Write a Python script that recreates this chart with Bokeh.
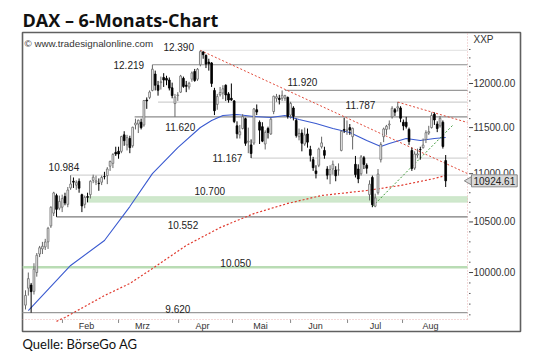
from bokeh.plotting import figure
from bokeh.models import (Range1d, FixedTicker, PrintfTickFormatter, Label,
                          BoxAnnotation, ColumnDataSource, Title)
from bokeh.core.properties import value
from bokeh.embed import file_html
from bokeh.resources import INLINE

# ---------------- data (DAX daily, 12 Jan - 12 Aug 2015) ----------------
opens = [9690, 9850, 9880, 9820, 10000, 10180, 10230, 10250, 10300, 10460, 10590, 10770, 10640, 10650, 10760,
         10680, 10850, 10920, 10880, 10920, 10780, 10680, 10760, 10780, 10930, 10910, 10900, 10910, 10970, 10980,
         11080, 11110, 11230, 11240, 11240,
         11420, 11310, 11380, 11300, 11530, 11540, 11560, 11530, 11810, 11840, 11920, 12110, 11980, 12010, 12070,
         12060, 12040, 11950, 11770, 11860, 11900, 12060,
         11980, 11960, 12050, 12140, 12050, 12220, 12370, 12330, 12250, 12240, 11920, 11760, 11870, 11890, 11980,
         11880, 11830, 11800, 11520, 11420,
         11490, 11600, 11340, 11310, 11330, 11700, 11560, 11510, 11320, 11490, 11430, 11680, 11830, 11830, 11830,
         11830, 11840, 11640, 11720, 11580,
         11400, 11440, 11320, 11430, 11260, 11150, 11030, 11090, 11290, 11250, 11050, 10990, 11050, 11040, 11040,
         11250, 11480, 11470, 11500, 11400, 11100, 11050,
         11000, 11170, 11090, 10780, 10960, 10660, 10800, 11150, 11400, 11480, 11530, 11620, 11700, 11720, 11720,
         11560, 11560, 11480, 11250, 11060, 11200, 11260, 11280,
         11370, 11440, 11500, 11650, 11540, 11520, 11560, 11140]
highs = [9830, 10000, 9900, 10090, 10190, 10260, 10300, 10330, 10450, 10660, 10810, 10790, 10770, 10780, 10800,
         10860, 10984, 10960, 10930, 10950, 10790, 10770, 10800, 10930, 10990, 10980, 10950, 10980, 11020, 11070,
         11140, 11220, 11290, 11290, 11410,
         11460, 11420, 11410, 11510, 11600, 11590, 11600, 11810, 11840, 11920, 12219, 12150, 12030, 12080, 12120,
         12090, 12070, 12010, 11880, 11900, 12100, 12080,
         12030, 12020, 12140, 12170, 12180, 12390, 12380, 12340, 12290, 12250, 11950, 11880, 11960, 11980, 11990,
         11900, 12000, 11810, 11570, 11530,
         11650, 11610, 11500, 11370, 11720, 11760, 11580, 11560, 11470, 11510, 11610, 11860, 11880, 11870, 11920,
         11870, 11850, 11790, 11740, 11600,
         11490, 11480, 11500, 11490, 11300, 11180, 11090, 11280, 11400, 11290, 11080, 11090, 11140, 11080, 11110,
         11470, 11610, 11580, 11540, 11500, 11190, 11100,
         11200, 11190, 11110, 10930, 10980, 10790, 11050, 11340, 11500, 11530, 11580, 11740, 11720, 11787, 11740,
         11590, 11620, 11500, 11280, 11240, 11270, 11290, 11380,
         11470, 11520, 11670, 11670, 11570, 11630, 11580, 11200]
lows = [9650, 9780, 9620, 9790, 9960, 10150, 10180, 10220, 10230, 10440, 10560, 10552, 10620, 10600, 10670,
        10650, 10830, 10850, 10830, 10800, 10600, 10640, 10700, 10740, 10900, 10880, 10820, 10880, 10940, 10890,
        11030, 11060, 11190, 11160, 11220,
        11300, 11250, 11220, 11280, 11480, 11440, 11480, 11510, 11710, 11820, 11910, 11920, 11860, 11930, 11960,
        11980, 11920, 11830, 11620, 11800, 11890, 11950,
        11900, 11930, 12020, 12020, 12030, 12200, 12290, 12180, 12150, 11960, 11640, 11700, 11850, 11820, 11800,
        11780, 11800, 11550, 11380, 11380,
        11480, 11300, 11220, 11167, 11310, 11640, 11320, 11340, 11260, 11380, 11420, 11650, 11790, 11760, 11800,
        11800, 11600, 11600, 11580, 11390,
        11360, 11240, 11300, 11280, 11130, 11030, 10950, 11070, 11270, 11160, 10940, 10890, 10990, 10920, 10980,
        11240, 11440, 11420, 11420, 11260, 10960, 10900,
        10980, 11050, 11000, 10720, 10650, 10650, 10780, 11120, 11340, 11420, 11480, 11600, 11630, 11680, 11560,
        11470, 11490, 11310, 11030, 11040, 11170, 11150, 11270,
        11330, 11420, 11490, 11530, 11450, 11500, 11270, 10860]
closes = [9781, 9941, 9817, 10032, 10168, 10242, 10257, 10299, 10435, 10649, 10798, 10628, 10710, 10739, 10694,
          10828, 10891, 10911, 10905, 10847, 10663, 10752, 10752, 10920, 10963, 10924, 10895, 10961, 10969, 11050,
          11131, 11206, 11211, 11211, 11401,
          11356, 11390, 11280, 11504, 11551, 11582, 11500, 11805, 11800, 11901, 12167, 11980, 11922, 12020, 12040,
          12039, 11947, 11861, 11843, 11868, 12086, 11966,
          11967, 12002, 12123, 12035, 12166, 12375, 12338, 12227, 12231, 12001, 11689, 11850, 11896, 11939, 11868,
          11810, 11812, 11568, 11432, 11454,
          11622, 11327, 11350, 11216, 11709, 11674, 11472, 11351, 11447, 11447, 11594, 11853, 11849, 11815, 11864,
          11860, 11625, 11771, 11626, 11413,
          11436, 11328, 11420, 11340, 11197, 11064, 11001, 11265, 11332, 11197, 10984, 11044, 11100, 10978, 11040,
          11460, 11471, 11472, 11473, 11492, 10991, 10945,
          11180, 11099, 11058, 10890, 10676, 10747, 10996, 11315, 11485, 11516, 11540, 11716, 11673, 11734, 11604,
          11520, 11513, 11347, 11056, 11211, 11212, 11257, 11308,
          11444, 11456, 11636, 11585, 11490, 11604, 11293, 10924.61]

# moving averages (bar index, value)
ma_blue_idx = [1, 16, 28, 37, 45, 54, 62, 66, 70, 75, 81, 87, 92, 97, 103, 109, 115, 121, 126, 129, 135, 140, 145, 149]
ma_blue_val = [9640, 10068, 10314, 10657, 11001, 11281, 11501, 11579, 11635, 11646, 11624, 11613, 11635, 11591,
               11545, 11490, 11446, 11358, 11292, 11325, 11380, 11358, 11380, 11391]
ma_red_idx = [11, 14, 28, 37, 45, 57, 69, 81, 93, 105, 121, 133, 145, 149]
ma_red_val = [9540, 9576, 9780, 9895, 10038, 10264, 10443, 10585, 10689, 10771, 10823, 10876, 10949, 10980]

# trend lines (bar index, value)
down1_x = [62, 156.7]
down1_y = [12390, 11002]
down2_x = [132, 156.7]
down2_y = [11787, 11557]
up1_x = [123, 151.4]
up1_y = [10657, 11523]

# horizontal price levels (value, first bar of the line)
level_values = [12390, 12219, 11920, 11787, 11620, 11167, 10984, 10552, 9620]
level_start = [62, 45, 92, 47, 38.7, 80, 16, 11, -2]
green_level = 10050
band_low, band_high, band_start = 10700, 10760, 22

label_texts = ["12.390", "12.219", "11.920", "11.787", "11.620", "11.167", "10.984", "10.700", "10.552",
               "10.050", "9.620"]
label_values = [12390, 12219, 11920, 11787, 11620, 11167, 10984, 10700, 10552, 10050, 9620]

month_names = ["Feb", "Mrz", "Apr", "Mai", "Jun", "Jul", "Aug"]
month_label_idx = [21.6, 41.5, 62.8, 83.3, 102.8, 124.1, 143.6]
month_tick_idx = [13.1, 33.0, 54.3, 73.4, 94.0, 114.2, 133.7]

price_ticks = [10000, 10500, 11000, 11500, 12000]
price_minor_ticks = [9600, 9700, 9800, 9900, 10100, 10200, 10300, 10400, 10600, 10700, 10800, 10900,
                     11100, 11200, 11300, 11400, 11600, 11700, 11800, 11900, 12100, 12200, 12300, 12400]
last_close = 10924.61

# ---------------- styling / layout ----------------
FONT = "Liberation Sans"
X_LEFT, X_RIGHT, X_END = -1.064, 175.53, 156.74      # frame edges and end of price area (bar units)
Y_BOTTOM, Y_TOP, Y_END = 9447, 12605, 9557            # frame edges and bottom of price area
X_TICK = 158.0                                         # position of the price tick marks
level_colors = ["#e6e6e6", "#8c8c8c", "#9a9a9a", "#cfcfcf", "#8c8c8c", "#d4d4d4", "#d4d4d4", "#7a7a7a", "#9a9a9a"]
label_x = [48.9, 31.2, 92.9, 113.5, 49.6, 66.3, 8.2, 59.9, 50.4, 69.1, 49.6]
label_dy = [-3, 0.5, -8, 2.5, 10, 0, -8, -11, 8, -4, -4]

p = figure(width=540, height=363, output_backend="svg", toolbar_location=None,
           y_axis_type="log", y_axis_location="right",
           x_range=Range1d(X_LEFT, X_RIGHT), y_range=Range1d(Y_BOTTOM, Y_TOP),
           min_border_left=22, min_border_right=20, min_border_top=32, min_border_bottom=32)
p.background_fill_color = "white"
p.border_fill_color = "white"
p.outline_line_color = "#606060"
p.outline_line_width = 1.6
p.grid.visible = False

# title and source
p.title.text = "DAX – 6-Monats-Chart"
p.title.text_font = "Open Sans"
p.title.text_font_style = "bold"
p.title.text_font_size = "18px"
p.title.text_color = "#111111"
p.title.align = "left"
p.title.standoff = 1
p.add_layout(Title(text="Quelle: BörseGo AG", text_font="Lato", text_font_size="13px",
                   text_font_style="normal", text_color="#111111", align="left", standoff=0), "below")

# price axis (labels drawn inside the outer frame, right of the price area)
yticks = price_ticks + [12520]
p.yaxis.ticker = FixedTicker(ticks=yticks, minor_ticks=[])
p.yaxis.formatter = PrintfTickFormatter(format="%.2f")
p.yaxis.major_label_overrides = {12520: "XXP"}
p.yaxis.major_label_text_font = FONT
p.yaxis.major_label_text_font_size = "10px"
p.yaxis.major_label_text_color = "#333333"
p.yaxis.major_tick_out = 0
p.yaxis.major_tick_in = 0
p.yaxis.major_tick_line_color = None
p.yaxis.minor_tick_line_color = None
p.yaxis.major_label_standoff = -47
p.yaxis.axis_line_color = None

# time axis (month names inside the outer frame, below the price area)
p.xaxis.ticker = FixedTicker(ticks=month_label_idx, minor_ticks=[])
p.xaxis.major_label_overrides = {t: n for t, n in zip(month_label_idx, month_names)}
p.xaxis.major_label_text_font = FONT
p.xaxis.major_label_text_font_size = "9px"
p.xaxis.major_label_text_color = "#333333"
p.xaxis.major_tick_line_color = None
p.xaxis.minor_tick_line_color = None
p.xaxis.major_tick_out = 0
p.xaxis.major_tick_in = 0
p.xaxis.major_label_standoff = -11
p.xaxis.axis_line_color = None

# separators between price area and axis areas, tick marks
p.segment(x0=[X_LEFT, X_END], y0=[Y_END, Y_END], x1=[X_END, X_END], y1=[Y_END, Y_TOP],
          line_color="#e8b4b4", line_width=1, line_dash="1 2")
p.segment(x0=month_tick_idx, y0=[Y_END] * len(month_tick_idx), x1=month_tick_idx,
          y1=[9525] * len(month_tick_idx), line_color="#888888", line_width=1)
p.scatter(x=[X_TICK] * len(price_ticks), y=price_ticks, marker="dash", size=4, line_color="#444444",
          line_width=1)
p.scatter(x=[X_END + 0.8] * len(price_minor_ticks), y=price_minor_ticks, marker="dash", size=1.5,
          line_color="#555555", line_width=1)

# price levels
p.segment(x0=level_start, y0=level_values, x1=[X_END] * len(level_values), y1=level_values,
          line_color=level_colors, line_width=1.2)
p.segment(x0=[X_LEFT], y0=[green_level], x1=[X_END], y1=[green_level], line_color="#b9dcb4", line_width=2.5)
p.add_layout(BoxAnnotation(left=band_start, right=X_END, bottom=band_low, top=band_high,
                           fill_color="#cfe8cc", fill_alpha=1.0, line_color="#a9d3a4", line_width=1,
                           level="underlay"))

# moving averages
p.line(ma_red_idx, ma_red_val, line_color="#e03a2e", line_width=1.2, line_dash="2 2")
p.line(ma_blue_idx, ma_blue_val, line_color="#3a5ad0", line_width=1.1)

# trend lines
p.line(down1_x, down1_y, line_color="#e04a3a", line_width=1, line_dash="2 2")
p.line(down2_x, down2_y, line_color="#e04a3a", line_width=1, line_dash="2 2")
p.line(up1_x, up1_y, line_color="#3f9a3a", line_width=1, line_dash="2 2")

# candles
idx = list(range(len(closes)))
up = [c >= o for o, c in zip(opens, closes)]
src = ColumnDataSource(dict(
    idx=idx, o=opens, h=highs, l=lows, c=closes,
    top=[max(o, c) for o, c in zip(opens, closes)],
    bottom=[min(o, c) for o, c in zip(opens, closes)],
    fill=["white" if u else "black" for u in up],
    line=["#666666" if u else "black" for u in up],
))
p.segment(x0="idx", y0="l", x1="idx", y1="h", line_color="line", line_width=1, source=src)
p.vbar(x="idx", width=0.62, top="top", bottom="bottom", fill_color="fill", line_color="line",
       line_width=0.8, source=src)

# level labels
lsrc = ColumnDataSource(dict(x=label_x, y=label_values, t=label_texts, dy=label_dy))
p.text(x="x", y="y", text="t", y_offset="dy", source=lsrc, text_font=value(FONT),
       text_font_size="10px", text_color="#222222", text_baseline="middle", text_align="left")

# watermark and last-price marker
p.add_layout(Label(x=2, y=288, x_units="screen", y_units="screen", text="© www.tradesignalonline.com",
                   text_font=FONT, text_font_size="9.8px", text_color="#333333", text_baseline="alphabetic"))
p.scatter(x=[X_END + 0.5], y=[last_close], marker="triangle", angle=1.5708, size=8,
          fill_color="#d9d9d9", line_color="#888888", line_width=1)
p.add_layout(Label(x=449, y=last_close, x_units="screen", y_units="data", text="10924.61",
                   text_font=FONT, text_font_size="10px", text_color="#222222", text_baseline="middle",
                   background_fill_color="#d9d9d9", border_line_color="#888888", padding=2))

open("out.html", "w").write(file_html(p, INLINE))
